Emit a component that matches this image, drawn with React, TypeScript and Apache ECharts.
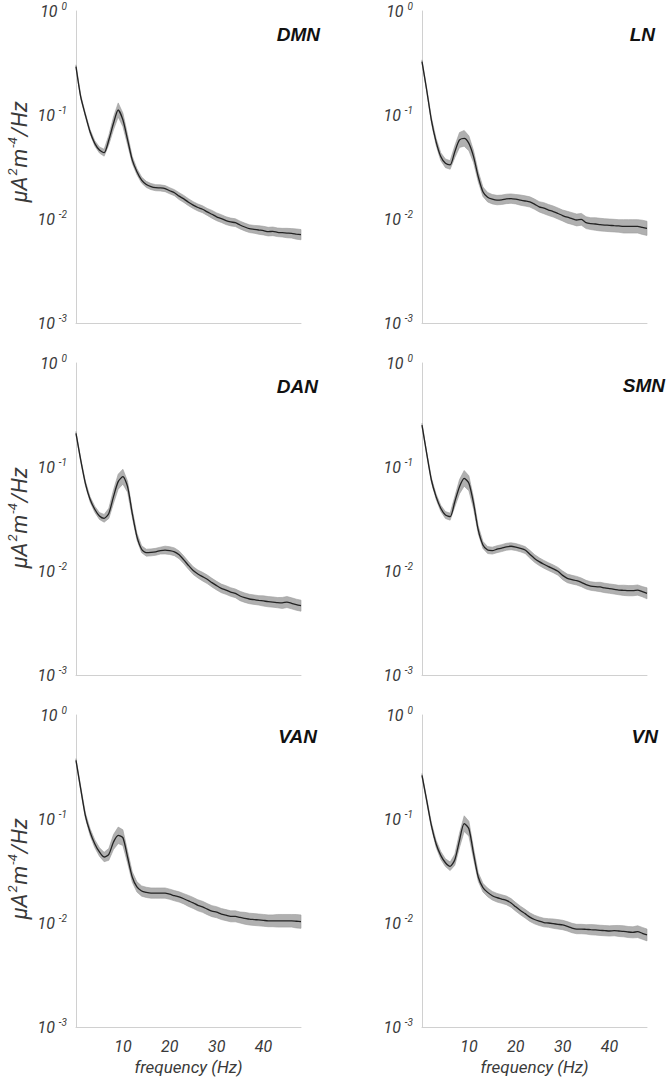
import React, { useEffect, useRef } from "react";
import * as echarts from "echarts";

// ---------- data ----------
const FREQ = [0, 1, 2, 3, 4, 5, 6, 7, 8, 9, 10, 11, 12, 13, 14, 15, 16, 17, 18, 19, 20, 21, 22, 23, 24, 25, 26, 27, 28, 29, 30, 31, 32, 33, 34, 35, 36, 37, 38, 39, 40, 41, 42, 43, 44, 45, 46, 47, 48];
const X_TICKS = [10, 20, 30, 40];
const Y_TICK_EXPONENTS = [-3, -2, -1, 0];
const NETWORKS = ["DMN", "LN", "DAN", "SMN", "VAN", "VN"];

const DMN_MEAN = [0.292, 0.150, 0.100, 0.069, 0.0534, 0.0461, 0.0434, 0.0575, 0.0832, 0.1117, 0.090, 0.058, 0.037, 0.0285, 0.0237, 0.0215, 0.0205, 0.0200, 0.0199, 0.0196, 0.0187, 0.0179, 0.0166, 0.0156, 0.0145, 0.0136, 0.0129, 0.0124, 0.0117, 0.0111, 0.0105, 0.0101, 0.00964, 0.00936, 0.00922, 0.00875, 0.00838, 0.00807, 0.00796, 0.00784, 0.00773, 0.00756, 0.00761, 0.00745, 0.00739, 0.00733, 0.00728, 0.00717, 0.00707];
const DMN_ERR = [0.04, 0.04, 0.04, 0.05, 0.06, 0.07, 0.08, 0.11, 0.15, 0.17, 0.16, 0.12, 0.08, 0.07, 0.07, 0.07, 0.07, 0.07, 0.07, 0.07, 0.07, 0.07, 0.08, 0.08, 0.08, 0.08, 0.08, 0.08, 0.08, 0.09, 0.09, 0.09, 0.09, 0.09, 0.09, 0.09, 0.09, 0.09, 0.09, 0.10, 0.10, 0.10, 0.10, 0.10, 0.10, 0.11, 0.11, 0.12, 0.12];

const LN_MEAN = [0.326, 0.174, 0.0895, 0.0554, 0.0398, 0.0343, 0.0331, 0.0444, 0.0575, 0.0597, 0.0534, 0.0398, 0.0255, 0.0183, 0.0162, 0.0155, 0.0152, 0.0153, 0.0156, 0.0157, 0.0155, 0.0152, 0.0149, 0.0146, 0.0139, 0.0131, 0.0127, 0.0122, 0.0118, 0.0113, 0.0108, 0.0104, 0.0101, 0.00978, 0.00993, 0.00922, 0.00902, 0.00895, 0.00883, 0.00875, 0.00869, 0.00863, 0.00857, 0.00850, 0.00850, 0.00850, 0.00850, 0.00832, 0.00813];
const LN_ERR = [0.04, 0.05, 0.06, 0.08, 0.09, 0.10, 0.10, 0.14, 0.18, 0.19, 0.18, 0.14, 0.12, 0.11, 0.11, 0.11, 0.11, 0.11, 0.11, 0.11, 0.11, 0.12, 0.12, 0.12, 0.12, 0.12, 0.13, 0.13, 0.13, 0.13, 0.13, 0.14, 0.14, 0.14, 0.14, 0.14, 0.14, 0.15, 0.15, 0.15, 0.15, 0.15, 0.15, 0.16, 0.16, 0.16, 0.16, 0.17, 0.17];

const DAN_MEAN = [0.211, 0.117, 0.0697, 0.0489, 0.0392, 0.0338, 0.0321, 0.0358, 0.0519, 0.0723, 0.0807, 0.0647, 0.0358, 0.0214, 0.0162, 0.0150, 0.0151, 0.0153, 0.0157, 0.0159, 0.0157, 0.0153, 0.0143, 0.0128, 0.0113, 0.0101, 0.00936, 0.00883, 0.00832, 0.00773, 0.00723, 0.00681, 0.00656, 0.00628, 0.00610, 0.00575, 0.00554, 0.00538, 0.00530, 0.00522, 0.00515, 0.00507, 0.00503, 0.00496, 0.00493, 0.00503, 0.00489, 0.00474, 0.00464];
const DAN_ERR = [0.04, 0.04, 0.05, 0.06, 0.07, 0.08, 0.09, 0.12, 0.16, 0.18, 0.18, 0.13, 0.09, 0.08, 0.08, 0.08, 0.08, 0.08, 0.08, 0.09, 0.09, 0.09, 0.09, 0.09, 0.09, 0.09, 0.09, 0.10, 0.10, 0.10, 0.10, 0.10, 0.10, 0.10, 0.10, 0.11, 0.11, 0.11, 0.11, 0.11, 0.12, 0.12, 0.12, 0.12, 0.13, 0.13, 0.13, 0.13, 0.13];

const SMN_MEAN = [0.253, 0.135, 0.0750, 0.0519, 0.0401, 0.0345, 0.0333, 0.0464, 0.0647, 0.0778, 0.0697, 0.0447, 0.0248, 0.0178, 0.0159, 0.0157, 0.0162, 0.0166, 0.0171, 0.0173, 0.0170, 0.0165, 0.0159, 0.0145, 0.0132, 0.0123, 0.0116, 0.0110, 0.0105, 0.00993, 0.00908, 0.00850, 0.00826, 0.00807, 0.00778, 0.00739, 0.00717, 0.00707, 0.00702, 0.00687, 0.00677, 0.00667, 0.00656, 0.00652, 0.00647, 0.00647, 0.00656, 0.00633, 0.00610];
const SMN_ERR = [0.04, 0.04, 0.05, 0.06, 0.07, 0.08, 0.08, 0.12, 0.17, 0.19, 0.18, 0.13, 0.09, 0.08, 0.08, 0.08, 0.08, 0.08, 0.08, 0.08, 0.08, 0.08, 0.08, 0.09, 0.09, 0.09, 0.09, 0.09, 0.09, 0.09, 0.10, 0.10, 0.10, 0.10, 0.10, 0.10, 0.10, 0.10, 0.11, 0.11, 0.11, 0.11, 0.11, 0.12, 0.12, 0.12, 0.12, 0.12, 0.13];

const VAN_MEAN = [0.366, 0.196, 0.108, 0.0750, 0.0579, 0.0482, 0.0431, 0.0457, 0.0601, 0.0697, 0.0662, 0.0431, 0.0277, 0.0222, 0.0203, 0.0197, 0.0194, 0.0194, 0.0194, 0.0194, 0.0189, 0.0183, 0.0178, 0.0171, 0.0163, 0.0156, 0.0148, 0.0143, 0.0136, 0.0130, 0.0127, 0.0122, 0.0119, 0.0116, 0.0116, 0.0113, 0.0111, 0.0109, 0.0108, 0.0107, 0.0106, 0.0105, 0.0105, 0.0105, 0.0105, 0.0105, 0.0105, 0.0104, 0.0103];
const VAN_ERR = [0.04, 0.05, 0.06, 0.08, 0.09, 0.10, 0.11, 0.14, 0.18, 0.20, 0.19, 0.14, 0.12, 0.12, 0.12, 0.12, 0.12, 0.12, 0.12, 0.12, 0.12, 0.12, 0.12, 0.12, 0.13, 0.13, 0.13, 0.13, 0.13, 0.13, 0.13, 0.13, 0.13, 0.13, 0.13, 0.13, 0.14, 0.14, 0.14, 0.14, 0.14, 0.14, 0.14, 0.15, 0.15, 0.15, 0.15, 0.16, 0.16];

const VN_MEAN = [0.263, 0.151, 0.0869, 0.0579, 0.0447, 0.0380, 0.0351, 0.0406, 0.0623, 0.0902, 0.0807, 0.0464, 0.0277, 0.0219, 0.0197, 0.0183, 0.0175, 0.0170, 0.0165, 0.0156, 0.0143, 0.0132, 0.0123, 0.0114, 0.0108, 0.0104, 0.0101, 0.0100, 0.00986, 0.00971, 0.00957, 0.00929, 0.00895, 0.00875, 0.00875, 0.00869, 0.00863, 0.00857, 0.00850, 0.00844, 0.00838, 0.00844, 0.00838, 0.00832, 0.00819, 0.00813, 0.00826, 0.00796, 0.00767];
const VN_ERR = [0.04, 0.05, 0.06, 0.08, 0.09, 0.09, 0.10, 0.13, 0.17, 0.19, 0.18, 0.13, 0.10, 0.10, 0.10, 0.10, 0.10, 0.10, 0.10, 0.10, 0.10, 0.10, 0.10, 0.10, 0.10, 0.10, 0.10, 0.10, 0.11, 0.11, 0.11, 0.11, 0.11, 0.11, 0.11, 0.11, 0.12, 0.12, 0.12, 0.12, 0.12, 0.12, 0.13, 0.13, 0.13, 0.13, 0.14, 0.14, 0.14];

const MEANS = [DMN_MEAN, LN_MEAN, DAN_MEAN, SMN_MEAN, VAN_MEAN, VN_MEAN];
const ERRS = [DMN_ERR, LN_ERR, DAN_ERR, SMN_ERR, VAN_ERR, VN_ERR];

const Y_NAME = "{m|μA}{s|2}{m|m}{s|-4}{m|/Hz}";
const X_NAME = "frequency (Hz)";

// ---------- layout / style ----------
const W = 669;
const H = 1079;
const COL_LEFT = [76, 422];
const ROW_TOP = [11, 363, 715];
const GRID_W = 225;
const GRID_H = 312;
const TITLE_POS = [
  [320, 34], [655, 34],
  [318, 386], [665, 385],
  [317, 736], [658, 736],
];
const YNAME_POS = [[19, 152], [19, 518], [19, 869]];
const FONT = "Roboto, 'Liberation Sans', sans-serif";
const TEXT_COLOR = "#3a3a3a";
const AXIS_COLOR = "#d0d0d0";

export default function App() {
  const ref = useRef<HTMLDivElement>(null);

  useEffect(() => {
    document.body.style.margin = "0";
    const chart = echarts.init(ref.current!, null, { renderer: "svg" });

    const grids: any[] = [];
    const xAxes: any[] = [];
    const yAxes: any[] = [];
    const series: any[] = [];
    const graphics: any[] = [];

    NETWORKS.forEach((net, i) => {
      const col = i % 2;
      const row = Math.floor(i / 2);
      const bottom = row === 2;
      const mean = MEANS[i];
      const err = ERRS[i];

      grids.push({ left: COL_LEFT[col], top: ROW_TOP[row], width: GRID_W, height: GRID_H });

      xAxes.push({
        type: "value",
        gridIndex: i,
        min: 0,
        max: 48,
        interval: 10,
        axisLine: { show: true, lineStyle: { color: AXIS_COLOR, width: 1 } },
        axisTick: { show: false },
        splitLine: { show: false },
        axisLabel: {
          show: bottom,
          margin: 11,
          formatter: (v: number) => (X_TICKS.indexOf(v) >= 0 ? String(v) : ""),
          fontSize: 16,
          fontStyle: "italic",
          fontWeight: 400,
          fontFamily: FONT,
          color: TEXT_COLOR,
        },
        name: bottom ? X_NAME : "",
        nameLocation: "middle",
        nameGap: 31,
        nameTextStyle: {
          fontSize: 17,
          fontStyle: "italic",
          fontWeight: 400,
          fontFamily: FONT,
          color: TEXT_COLOR,
        },
      });

      yAxes.push({
        type: "log",
        logBase: 10,
        gridIndex: i,
        min: Math.pow(10, Y_TICK_EXPONENTS[0]),
        max: Math.pow(10, Y_TICK_EXPONENTS[Y_TICK_EXPONENTS.length - 1]),
        axisLine: { show: true, lineStyle: { color: AXIS_COLOR, width: 1 } },
        axisTick: { show: false },
        splitLine: { show: false },
        axisLabel: {
          margin: 9,
          formatter: (v: number) => {
            const e = Math.round(Math.log10(v));
            return `{b|10}{s|${e}}`;
          },
          rich: {
            b: { fontSize: 16, fontStyle: "italic", fontWeight: 400, fontFamily: FONT, color: TEXT_COLOR, lineHeight: 19 },
            s: { fontSize: 10, fontStyle: "italic", fontWeight: 400, fontFamily: FONT, color: TEXT_COLOR, lineHeight: 11, verticalAlign: "top", padding: [0, 0, 0, 4] },
          },
        },
      });

      series.push({
        type: "custom",
        xAxisIndex: i,
        yAxisIndex: i,
        silent: true,
        z: 2,
        data: [[FREQ[0], mean[0]]],
        renderItem: (_params: any, api: any) => {
          const pts: number[][] = [];
          for (let k = 0; k < FREQ.length; k++) {
            pts.push(api.coord([FREQ[k], mean[k] * (1 + (err[k] ?? 0.1))]));
          }
          for (let k = FREQ.length - 1; k >= 0; k--) {
            pts.push(api.coord([FREQ[k], mean[k] / (1 + (err[k] ?? 0.1))]));
          }
          return {
            type: "polygon",
            shape: { points: pts, smooth: 0 },
            style: { fill: "#b0b0b0", stroke: "#9c9c9c", lineWidth: 0.6 },
          };
        },
      });

      series.push({
        type: "line",
        xAxisIndex: i,
        yAxisIndex: i,
        data: FREQ.map((f, k) => [f, mean[k]]),
        showSymbol: false,
        symbol: "none",
        smooth: 0.25,
        z: 3,
        lineStyle: { color: "#222", width: 1.3 },
      });

      graphics.push({
        type: "text",
        x: TITLE_POS[i][0],
        y: TITLE_POS[i][1],
        style: {
          text: net,
          fontSize: 19,
          fontWeight: "bold",
          fontStyle: "italic",
          fontFamily: "'Liberation Sans', Arial, sans-serif",
          fill: "#111",
          align: "right",
          verticalAlign: "middle",
        },
      });
    });

    YNAME_POS.forEach(([x, y]) => {
      graphics.push({
        type: "text",
        x,
        y,
        rotation: Math.PI / 2,
        style: {
          text: Y_NAME,
          align: "center",
          verticalAlign: "middle",
          rich: {
            m: { fontSize: 22, fontStyle: "italic", fontWeight: 400, fontFamily: FONT, fill: TEXT_COLOR, lineHeight: 26 },
            s: { fontSize: 13, fontStyle: "italic", fontWeight: 400, fontFamily: FONT, fill: TEXT_COLOR, lineHeight: 14, verticalAlign: "top", padding: [0, 1, 0, 1] },
          },
        },
      });
    });

    chart.setOption({
      animation: false,
      backgroundColor: "#fff",
      grid: grids,
      xAxis: xAxes,
      yAxis: yAxes,
      series,
      graphic: graphics,
    });

    return () => chart.dispose();
  }, []);

  return <div ref={ref} style={{ position: "absolute", left: 0, top: 0, width: W, height: H }} />;
}
